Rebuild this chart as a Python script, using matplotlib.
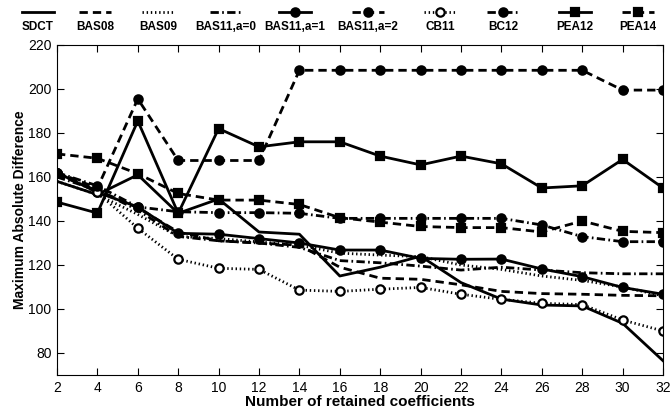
import matplotlib.pyplot as plt

plt.rcParams['font.family'] = ['Liberation Sans', 'DejaVu Sans']

# number of retained coefficients
x = [2, 4, 6, 8, 10, 12, 14, 16, 18, 20, 22, 24, 26, 28, 30, 32]

# maximum absolute difference per method
sdct = [158, 152, 161, 143.5, 150, 135, 134, 115, 119, 124, 112, 104.5, 101.8, 101.4, 93.5, 76.5]
bas08 = [161, 154, 146, 135, 131, 130, 129, 119, 114, 113.5, 111, 108, 107, 106.7, 106.2, 106]
bas09 = [158, 152, 143, 133, 132, 130.5, 129, 125.4, 124.5, 123.8, 120, 118, 115, 113, 110, 106]
bas11_a0 = [160, 154, 145, 133, 131, 130, 128, 122, 121, 119.5, 117.7, 119, 117.7, 116.5, 116, 116]
bas11_a1 = [162, 153, 146.4, 134.4, 134, 132, 130, 126.8, 126.8, 123, 122.6, 122.7, 118.2, 114.7, 109.8, 106.7]
bas11_a2 = [162, 155, 195.5, 167.5, 167.5, 167.5, 208.5, 208.5, 208.5, 208.5, 208.5, 208.5, 208.5, 208.5, 199.5, 199.5]
cb11 = [162, 153, 136.7, 122.6, 118.5, 118, 108.6, 108, 109, 109.8, 106.7, 104.4, 102.6, 102, 95, 90]
bc12 = [162, 156, 146.4, 144.2, 143.8, 143.8, 143.5, 141.2, 141.2, 141.2, 141.2, 141.2, 138.2, 132.9, 130.6, 130.6]
pea12 = [148.6, 143.6, 185.5, 143.5, 182, 173.7, 176, 176, 169.5, 165.5, 169.5, 166, 155, 156, 168, 155]
pea14 = [170.5, 168.5, 161.5, 152.5, 149.5, 149.5, 147.5, 141.5, 139.5, 137.5, 137, 137, 135, 140, 135.3, 134.7]

labels = ['SDCT', 'BAS08', 'BAS09', 'BAS11,a=0', 'BAS11,a=1',
          'BAS11,a=2', 'CB11', 'BC12', 'PEA12', 'PEA14']
series = [sdct, bas08, bas09, bas11_a0, bas11_a1, bas11_a2, cb11, bc12, pea12, pea14]

solid = '-'
dashed = (0, (3, 1.8))
dotted = (0, (0.5, 1))
dashdot = (0, (3, 1.2, 0.6, 1.2))
styles = [
    dict(ls=solid),
    dict(ls=dashed),
    dict(ls=dotted),
    dict(ls=dashdot),
    dict(ls=solid, marker='o', mfc='black'),
    dict(ls=dashed, marker='o', mfc='black'),
    dict(ls=dotted, marker='o', mfc='white'),
    dict(ls=dashdot, marker='o', mfc='black'),
    dict(ls=solid, marker='s', mfc='black'),
    dict(ls=dashed, marker='s', mfc='black'),
]

fig = plt.figure(figsize=(6.7, 4.15), dpi=100)
ax = fig.add_axes([57 / 670, 1 - 375 / 415, 606 / 670, 330 / 415])

for y, lab, st in zip(series, labels, styles):
    ax.plot(x, y, color='black', lw=2, ms=6, mec='black', mew=1.6,
            label=lab, **st)

ax.set_xlim(2, 32)
ax.set_ylim(70, 220)
ax.set_xticks(range(2, 33, 2))
ax.set_yticks(range(80, 221, 20))
ax.tick_params(direction='in', top=True, right=True, length=5, width=0.8,
               labelsize=10, pad=4)
for s in ax.spines.values():
    s.set_linewidth(0.8)
ax.set_xlabel('Number of retained coefficients', fontsize=11, fontweight='bold', labelpad=0)
ax.set_ylabel('Maximum Absolute Difference', fontsize=10, fontweight='bold', labelpad=1)

# legend strip above the axes: line sample on top, label underneath
lax = fig.add_axes([0, 1 - 40 / 415, 1, 40 / 415])
lax.set_xlim(0, 670)
lax.set_ylim(40, 0)
lax.axis('off')
centers = [38, 95, 158, 226, 295, 368, 440, 503, 575, 638]
for cx, lab, st in zip(centers, labels, styles):
    st = dict(st)
    mk = st.pop('marker', None)
    mfc = st.pop('mfc', 'black')
    lax.plot([cx - 16, cx + 16], [12, 12], color='black', lw=2, **st)
    if mk:
        lax.plot([cx], [12], marker=mk, ms=6, mfc=mfc, mec='black', mew=1.6, ls='none')
    lax.text(cx, 27, lab, ha='center', va='center', fontsize=8.5, fontweight='bold')

fig.savefig('out.png', dpi=100)
